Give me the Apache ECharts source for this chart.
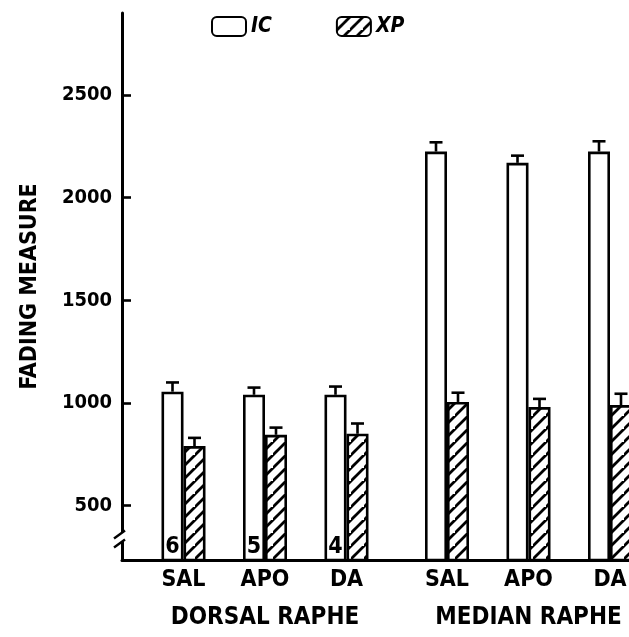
<!DOCTYPE html>
<html>
<head>
<meta charset="utf-8">
<script src="https://cdn.jsdelivr.net/npm/echarts@6/dist/echarts.min.js"></script>
<style>html,body{margin:0;padding:0;background:#fff;}#c{width:629px;height:637px;}</style>
</head>
<body>
<div id="c"></div>
<script>
// ---- data ----
const categories = ['SAL', 'APO', 'DA'];
const groupNames = ['DORSAL RAPHE', 'MEDIAN RAPHE'];
const seriesNames = ['IC', 'XP'];
const dorsalIC = [1055, 1040, 1040];
const dorsalICErr = [45, 35, 40];
const dorsalXP = [790, 845, 850];
const dorsalXPErr = [40, 35, 50];
const medianIC = [2225, 2170, 2225];
const medianICErr = [45, 35, 50];
const medianXP = [1005, 980, 990];
const medianXPErr = [45, 40, 55];
const nCounts = [6, 5, 4];
const yTicks = [500, 1000, 1500, 2000, 2500];
const yMin = 235, yMax = 2900;

// ---- style ----
const FONT = "'Liberation Sans Narrow','DejaVu Sans Condensed','Roboto Condensed',sans-serif";
const BAR_W = 22;
const LW = 2.6;

function makeHatch() {
  const c = document.createElement('canvas');
  const s = 13;
  c.width = s; c.height = s;
  const g = c.getContext('2d');
  g.fillStyle = '#fff'; g.fillRect(0, 0, s, s);
  g.strokeStyle = '#000'; g.lineWidth = 2.8;
  g.beginPath();
  g.moveTo(-2, s + 2); g.lineTo(s + 2, -2);
  g.moveTo(-2 - s, s + 2); g.lineTo(2, -2);
  g.moveTo(s - 2, 2 * s + 2); g.lineTo(2 * s + 2, s - 2);
  g.stroke();
  return c;
}
const hatch = { image: makeHatch(), repeat: 'repeat' };

const icStyle = { color: '#fff', borderColor: '#000', borderWidth: LW };
const xpStyle = { color: hatch, borderColor: '#000', borderWidth: LW };

function errRender(sign) {
  return function (params, api) {
    const x = api.value(0), v = api.value(1), e = api.value(2);
    const p0 = api.coord([x, v]);
    const p1 = api.coord([x, v + e]);
    const cx = p0[0] + sign * BAR_W / 2;
    return {
      type: 'group',
      children: [
        { type: 'line', shape: { x1: cx, y1: p0[1], x2: cx, y2: p1[1] }, style: { stroke: '#000', lineWidth: LW } },
        { type: 'line', shape: { x1: cx - 6.5, y1: p1[1], x2: cx + 6.5, y2: p1[1] }, style: { stroke: '#000', lineWidth: LW } }
      ]
    };
  };
}
function errData(vals, errs) { return vals.map((v, i) => [i, v, errs[i]]); }

const gridTop = 13, gridBottom = 77;
const bandW = 81.5;
const g1Left = 142.75, g2Left = 406.25;
const chart = echarts.init(document.getElementById('c'));

function groupXAxis(idx, name) {
  return {
    type: 'category', gridIndex: idx, data: categories,
    axisLine: { show: false }, axisTick: { show: false },
    axisLabel: { margin: 9, color: '#000', fontFamily: FONT, fontWeight: 'bold', fontSize: 23 },
    name: name, nameLocation: 'middle', nameGap: 46,
    nameTextStyle: { color: '#000', fontFamily: FONT, fontWeight: 'bold', fontSize: 24 }
  };
}
function hiddenY(idx) {
  return { type: 'value', gridIndex: idx, min: yMin, max: yMax, show: false, splitLine: { show: false } };
}

const option = {
  animation: false,
  backgroundColor: '#fff',
  legend: {
    data: seriesNames, left: 206, top: 11, itemWidth: 34, itemHeight: 19, itemGap: 64,
    icon: 'roundRect',
    textStyle: { color: '#000', fontFamily: FONT, fontWeight: 'bold', fontStyle: 'italic', fontSize: 21 }
  },
  grid: [
    { left: 122, right: 0, top: gridTop, bottom: gridBottom, outerBoundsMode: 'none', containLabel: false },
    { left: g1Left, width: bandW * 3, top: gridTop, bottom: gridBottom, outerBoundsMode: 'none', containLabel: false },
    { left: g2Left, width: bandW * 3, top: gridTop, bottom: gridBottom, outerBoundsMode: 'none', containLabel: false }
  ],
  xAxis: [
    { type: 'value', gridIndex: 0, min: 0, max: 1,
      axisLine: { show: true, onZero: false, lineStyle: { color: '#000', width: 3 } },
      axisTick: { show: false }, axisLabel: { show: false }, splitLine: { show: false } },
    groupXAxis(1, groupNames[0]),
    groupXAxis(2, groupNames[1])
  ],
  yAxis: [
    { type: 'value', gridIndex: 0, min: yMin, max: yMax,
      name: 'FADING MEASURE', nameLocation: 'middle', nameGap: 80,
      nameTextStyle: { color: '#000', fontFamily: FONT, fontWeight: 'bold', fontSize: 23 },
      axisLine: { show: true, onZero: false, lineStyle: { color: '#000', width: 3 } },
      axisTick: { show: true, inside: true, length: 9, customValues: yTicks, lineStyle: { color: '#000', width: 2.6 } },
      axisLabel: { customValues: yTicks, margin: 10, color: '#000', fontFamily: FONT, fontWeight: 'bold', fontSize: 20,
        formatter: v => String(v) },
      splitLine: { show: false } },
    hiddenY(1),
    hiddenY(2)
  ],
  series: [
    { name: 'IC', type: 'bar', xAxisIndex: 1, yAxisIndex: 1, data: dorsalIC, barWidth: BAR_W, barGap: '0%',
      itemStyle: icStyle,
      label: { show: true, position: 'insideBottom', distance: 3, color: '#000', fontFamily: FONT, fontWeight: 'bold', fontSize: 23,
        formatter: p => String(nCounts[p.dataIndex]) } },
    { name: 'XP', type: 'bar', xAxisIndex: 1, yAxisIndex: 1, data: dorsalXP, barWidth: BAR_W, barGap: '0%', itemStyle: xpStyle },
    { name: 'IC', type: 'bar', xAxisIndex: 2, yAxisIndex: 2, data: medianIC, barWidth: BAR_W, barGap: '0%', itemStyle: icStyle },
    { name: 'XP', type: 'bar', xAxisIndex: 2, yAxisIndex: 2, data: medianXP, barWidth: BAR_W, barGap: '0%', itemStyle: xpStyle },
    { type: 'custom', xAxisIndex: 1, yAxisIndex: 1, renderItem: errRender(-1), data: errData(dorsalIC, dorsalICErr), z: 5, silent: true },
    { type: 'custom', xAxisIndex: 1, yAxisIndex: 1, renderItem: errRender(1), data: errData(dorsalXP, dorsalXPErr), z: 5, silent: true },
    { type: 'custom', xAxisIndex: 2, yAxisIndex: 2, renderItem: errRender(-1), data: errData(medianIC, medianICErr), z: 5, silent: true },
    { type: 'custom', xAxisIndex: 2, yAxisIndex: 2, renderItem: errRender(1), data: errData(medianXP, medianXPErr), z: 5, silent: true }
  ]
};
chart.setOption(option);

// axis break symbol on the y axis line
const bp = chart.convertToPixel({ gridIndex: 0 }, [0, 345]);
const bx = bp[0], by = bp[1];
chart.setOption({
  graphic: [
    { type: 'rect', shape: { x: bx - 3, y: by - 5, width: 6, height: 9 }, style: { fill: '#fff' }, z: 100 },
    { type: 'line', shape: { x1: bx - 8, y1: by + 1, x2: bx + 3, y2: by - 7 }, style: { stroke: '#000', lineWidth: 2.4 }, z: 101 },
    { type: 'line', shape: { x1: bx - 8, y1: by + 10, x2: bx + 3, y2: by + 2 }, style: { stroke: '#000', lineWidth: 2.4 }, z: 101 }
  ]
});
</script>
</body>
</html>
